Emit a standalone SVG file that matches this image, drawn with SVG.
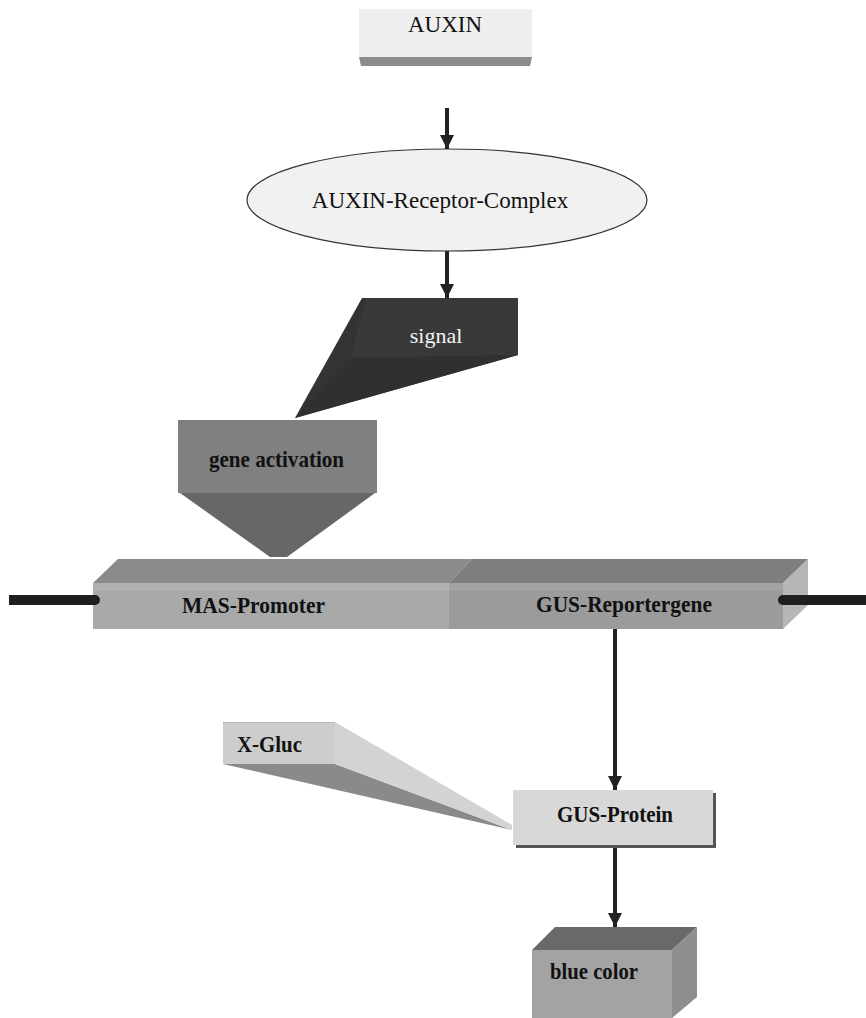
<svg xmlns="http://www.w3.org/2000/svg" width="866" height="1018" viewBox="0 0 866 1018">
<style>
.t{font-family:"Liberation Serif","Times New Roman",serif;font-size:23px;fill:#111;}
.b{font-family:"Liberation Serif","Times New Roman",serif;font-size:24px;font-weight:bold;fill:#111;}
.conn{stroke:#222;stroke-width:4;fill:none;}
.dna{stroke:#1e1e1e;stroke-width:10;fill:none;}
</style>
<defs>
<marker id="ah" markerUnits="userSpaceOnUse" markerWidth="16" markerHeight="16" viewBox="0 0 16 16" refX="14" refY="8" orient="auto">
<path d="M0,1 L14,8 L0,15 Z" fill="#222"/>
</marker>
</defs>
<rect width="866" height="1018" fill="#ffffff"/>

<g id="auxin">
<rect x="359" y="9" width="173" height="48" fill="#efefef"/>
<polygon points="359,57 532,57 530,66 361,66" fill="#8c8c8c"/>
<text class="t" x="445" y="32" text-anchor="middle">AUXIN</text>
</g>

<g id="receptor-complex">
<ellipse cx="447" cy="200" rx="200" ry="51" fill="#f1f1f1" stroke="#333" stroke-width="1.2"/>
<text class="t" x="440" y="208" text-anchor="middle">AUXIN-Receptor-Complex</text>
</g>

<g id="signal">
<polygon points="362,298 518,298 518,355 295,418" fill="#333333"/>
<polygon points="366,298 518,298 518,355 350,358" fill="#393939"/>
<polygon points="350,358 518,355 295,418" fill="#303030"/>
<text x="436" y="343" text-anchor="middle" style="font-family:'Liberation Serif','Times New Roman',serif;font-size:22px;fill:#f2f2f2">signal</text>
</g>

<g id="gene-activation">
<rect x="178" y="420" width="199" height="73" fill="#808080"/>
<polygon points="180,493 375,493 287,557 270,557" fill="#676767"/>
<text class="b" x="209" y="467" textLength="135" lengthAdjust="spacingAndGlyphs">gene activation</text>
</g>

<g id="dna-construct">
<g id="mas-promoter">
<polygon points="93,583 118,559 472,559 449,583" fill="#8b8b8b"/>
<rect x="93" y="583" width="356" height="46" fill="#a9a9a9"/>
<rect x="93" y="583" width="356" height="8" fill="#b1b1b1"/>
<text class="b" x="182" y="613" textLength="143" lengthAdjust="spacingAndGlyphs">MAS-Promoter</text>
</g>
<g id="gus-reportergene">
<polygon points="449,583 472,559 808,559 783,583" fill="#7e7e7e"/>
<rect x="449" y="583" width="334" height="46" fill="#9b9b9b"/>
<rect x="449" y="583" width="334" height="8" fill="#a2a2a2"/>
<polygon points="783,583 808,559 808,605 783,629" fill="#b6b6b6"/>
<text class="b" x="536" y="612" textLength="176" lengthAdjust="spacingAndGlyphs">GUS-Reportergene</text>
</g>
<line class="dna" x1="9" y1="600" x2="95" y2="600"/>
<circle cx="95" cy="600" r="5" fill="#1e1e1e"/>
<line class="dna" x1="783" y1="600" x2="866" y2="600"/>
<circle cx="783" cy="600" r="5" fill="#1e1e1e"/>
</g>

<g id="x-gluc">
<polygon points="223,764 335,764 512,830" fill="#8a8a8a"/>
<polygon points="335,722 512,825 512,830 335,764" fill="#d3d3d3"/>
<rect x="223" y="722" width="112" height="42" fill="#cdcdcd"/>
<line x1="223" y1="722.5" x2="335" y2="722.5" stroke="#b5b5b5" stroke-width="1"/>
<text class="b" x="237" y="752" textLength="65" lengthAdjust="spacingAndGlyphs">X-Gluc</text>
</g>

<g id="gus-protein">
<rect x="516" y="793" width="200" height="55" fill="#555"/>
<rect x="513" y="790" width="200" height="55" fill="#d8d8d8"/>
<text class="b" x="557" y="822" textLength="116" lengthAdjust="spacingAndGlyphs">GUS-Protein</text>
</g>

<g id="blue-color">
<polygon points="532,950 555,927 697,927 672,950" fill="#696969"/>
<polygon points="672,950 697,927 697,997 672,1018" fill="#8e8e8e"/>
<rect x="532" y="950" width="140" height="68" fill="#a3a3a3"/>
<text class="b" x="550" y="979" textLength="88" lengthAdjust="spacingAndGlyphs">blue color</text>
</g>

<g id="connectors">
<line class="conn" x1="447" y1="108" x2="447" y2="149" marker-end="url(#ah)"/>
<line class="conn" x1="447" y1="251" x2="447" y2="298" marker-end="url(#ah)"/>
<line class="conn" x1="615" y1="629" x2="615" y2="790" marker-end="url(#ah)"/>
<line class="conn" x1="615" y1="848" x2="615" y2="927" marker-end="url(#ah)"/>
</g>
</svg>
